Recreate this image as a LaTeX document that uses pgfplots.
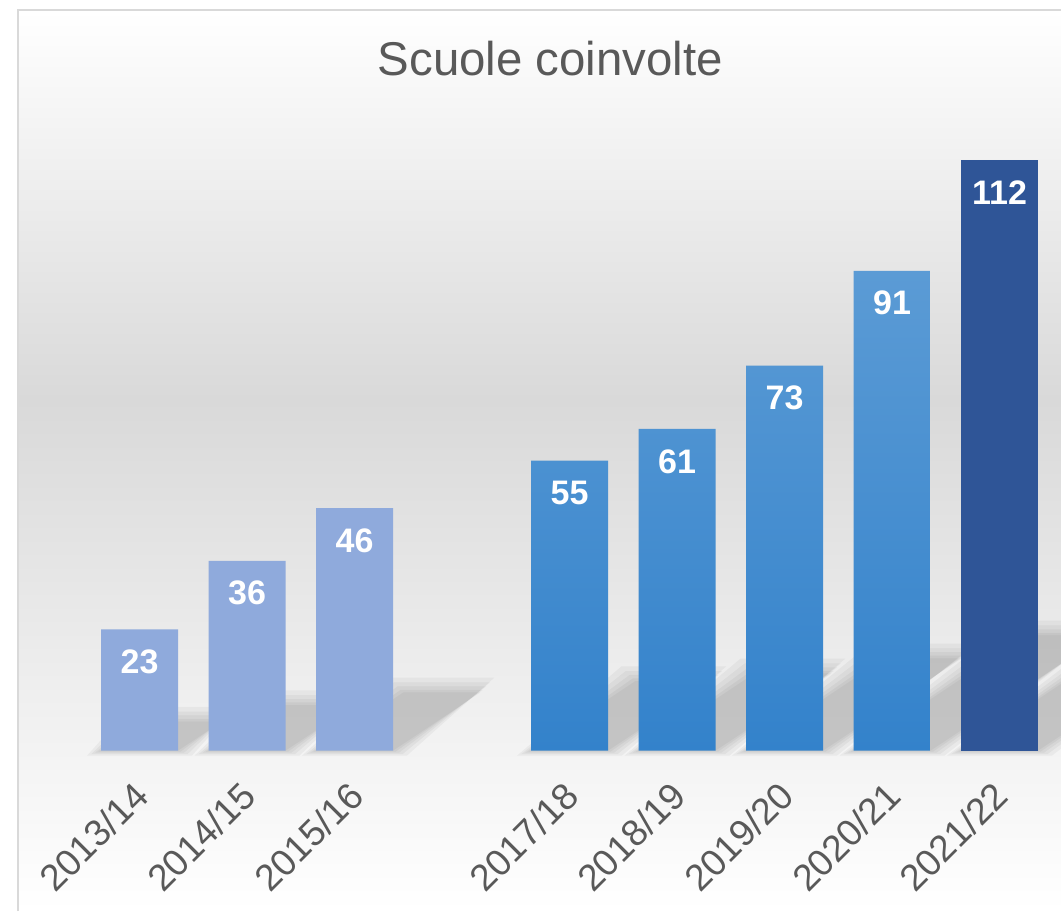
\documentclass[border=0pt]{standalone}
\usepackage{fontspec}
\setmainfont{Liberation Sans}
\usepackage{pgfplots}
\pgfplotsset{compat=1.18}
\definecolor{txtgray}{HTML}{595959}
\definecolor{framegray}{HTML}{D9D9D9}
\definecolor{bggray}{HTML}{D9D9D9}
\definecolor{lightbar}{HTML}{8FAADC}
\definecolor{midtop}{HTML}{5B9BD5}
\definecolor{midbot}{HTML}{3382CB}
\definecolor{darkbar}{HTML}{2F5597}
% shadow layer: #1 centre, #2 value, #3 x-spread, #4 y-spread
\newcommand\shadowlayer[4]{%
  \fill[black, fill opacity=0.04]
   (axis cs:{#1-0.358-#3},{-#4/3}) -- (axis cs:{#1+0.358+#3},{-#4/3})
   -- (axis cs:{#1+0.358+#3+0.01766*#2},{0.24*#2+#4})
   -- (axis cs:{#1-0.358-#3+0.01766*#2},{0.24*#2+#4}) -- cycle;}
\newcommand\barshadow[2]{%
  \shadowlayer{#1}{#2}{0.13}{2.8}%
  \shadowlayer{#1}{#2}{0.09}{1.9}%
  \shadowlayer{#1}{#2}{0.055}{1.15}%
  \shadowlayer{#1}{#2}{0.025}{0.5}%
  \shadowlayer{#1}{#2}{0}{0}}
\begin{document}
\begin{tikzpicture}
\begin{axis}[
  scale only axis,
  axis on top,
  width=530.5pt, height=455.5pt,
  xmin=-1.298, xmax=8.572,
  ymin=-30.4, ymax=142.34,
  axis line style={draw=none},
  tick style={draw=none},
  ytick=\empty,
  xtick={0,1,2,4,5,6,7,8},
  xticklabels={2013/14,2014/15,2015/16,2017/18,2018/19,2019/20,2020/21,2021/22},
  xticklabel style={yshift=61pt, xshift=1pt, rotate=45, anchor=east, inner sep=0pt,
    text=txtgray, font=\fontsize{18.6}{19}\selectfont},
  /pgf/number format/assume math mode=true,
  nodes near coords,
  every node near coord/.append style={anchor=north, yshift=-10pt, inner sep=0pt,
    text=white, font=\bfseries\fontsize{17}{17}\selectfont},
]
% background
\fill[top color=white, bottom color=bggray, draw=none]
  (axis cs:-1.130,140.44) rectangle (axis cs:8.572,66.5);
\fill[top color=bggray, bottom color=white, draw=none]
  (axis cs:-1.130,66.5) rectangle (axis cs:8.572,-30.4);
\draw[framegray, line width=1pt] (axis cs:-1.130,-30.4) |- (axis cs:8.572,140.44);
% shadows
\barshadow{0}{23}
\barshadow{1}{36}
\barshadow{2}{46}
\barshadow{4}{55}
\barshadow{5}{61}
\barshadow{6}{73}
\barshadow{7}{91}
\barshadow{8}{112}
% bars
\addplot[ybar, bar width=0.716, bar shift=0pt, draw=none, fill=lightbar]
  coordinates {(0,23) (1,36) (2,46)};
\addplot[ybar, bar width=0.716, bar shift=0pt, draw=none,
  top color=midtop, bottom color=midbot]
  coordinates {(4,55) (5,61) (6,73) (7,91)};
\addplot[ybar, bar width=0.716, bar shift=0pt, draw=none, fill=darkbar]
  coordinates {(8,112)};
% title
\node[anchor=base, text=txtgray, font=\fontsize{23.7}{24}\selectfont]
  at (axis cs:3.823,128.1) {Scuole coinvolte};
\end{axis}
\end{tikzpicture}
\end{document}
